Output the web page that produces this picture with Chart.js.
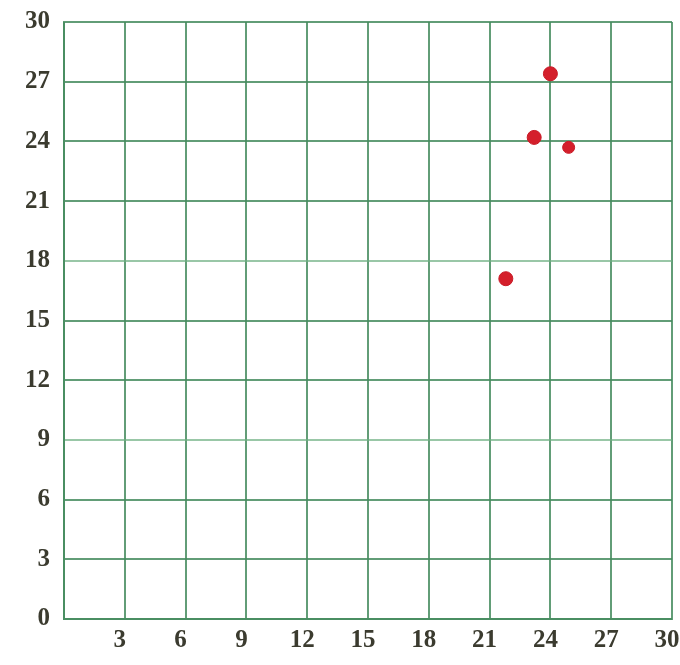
<!DOCTYPE html>
<html>
<head>
<meta charset="utf-8">
<script src="https://cdn.jsdelivr.net/npm/chart.js@4/dist/chart.umd.min.js"></script>
<style>
  html, body { margin: 0; padding: 0; background: #ffffff; }
  #wrap { width: 680px; height: 665px; }
</style>
</head>
<body>
<div id="wrap"><canvas id="c" width="680" height="665"></canvas></div>
<script>
const xValues = [24.0, 23.2, 24.9, 21.8];
const yValues = [27.4, 24.2, 23.7, 17.1];
const pointSizes = [7, 7, 6, 7];
const xTickLabels = ['', '3', '6', '9', '12', '15', '18', '21', '24', '27', '30'];
const yTickLabels = ['0', '3', '6', '9', '12', '15', '18', '21', '24', '27', '30'];

const points = xValues.map((x, i) => ({ x: x, y: yValues[i] }));
const gridMajor = 'rgba(70,140,95,0.85)';
const gridLight = 'rgba(110,175,130,0.7)';
const tickFont = { family: '"Liberation Serif", "DejaVu Serif", serif', size: 25, weight: 'bold' };

function noPad(s) { s.paddingLeft = 0; s.paddingRight = 0; s.paddingTop = 0; s.paddingBottom = 0; }

new Chart(document.getElementById('c'), {
  type: 'scatter',
  data: {
    datasets: [{
      data: points,
      backgroundColor: '#d41f2b',
      borderColor: '#c81a26',
      borderWidth: 1,
      pointRadius: pointSizes,
      pointHoverRadius: pointSizes
    }]
  },
  options: {
    responsive: false,
    animation: false,
    layout: { padding: { top: 22, right: 8, left: 0, bottom: 0 } },
    plugins: { legend: { display: false }, tooltip: { enabled: false } },
    scales: {
      x: {
        type: 'linear', min: 0, max: 30,
        afterFit: s => { s.height = 46; noPad(s); },
        border: { display: true, color: gridMajor, width: 2 },
        grid: { color: gridMajor, lineWidth: 2, drawTicks: false },
        ticks: {
          stepSize: 3, autoSkip: false, padding: 7, labelOffset: -5, maxRotation: 0,
          color: '#3b3b2f', font: tickFont,
          callback: (v, i) => xTickLabels[i]
        }
      },
      y: {
        type: 'linear', min: 0, max: 30,
        afterFit: s => { s.width = 64; noPad(s); },
        border: { display: true, color: gridMajor, width: 2 },
        grid: {
          color: ctx => (ctx.tick && (ctx.tick.value === 9 || ctx.tick.value === 18)) ? gridLight : gridMajor,
          lineWidth: 2, drawTicks: false
        },
        ticks: {
          stepSize: 3, autoSkip: false, padding: 14,
          color: '#3b3b2f', font: tickFont,
          callback: (v, i) => yTickLabels[i]
        }
      }
    }
  }
});
</script>
</body>
</html>
